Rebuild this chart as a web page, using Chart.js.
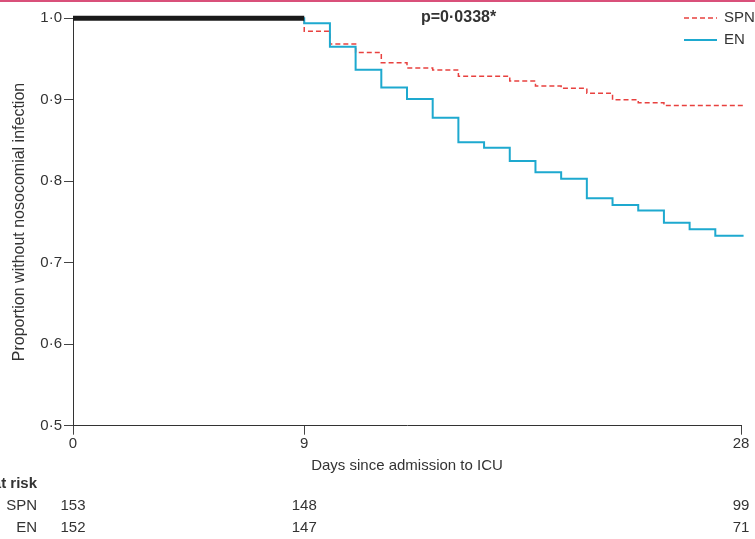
<!DOCTYPE html>
<html><head><meta charset="utf-8">
<script src="https://cdn.jsdelivr.net/npm/chart.js@4/dist/chart.umd.min.js"></script>
<style>html,body{margin:0;padding:0;background:#fff;}#wrap{position:relative;width:755px;height:539px;}</style>
</head><body><div id="wrap"><canvas id="c" width="755" height="539"></canvas></div>
<script>
// ---- data ----
const seriesNames = ['SPN', 'EN'];
const commonDays = [0, 9];
const commonValues = [1.0, 1.0];
const spnDays = [0, 9, 10, 11, 12, 13, 14, 15, 17, 18, 19, 20, 21, 22, 23, 26.1];
const spnValues = [1.0, 0.984, 0.9685, 0.958, 0.9455, 0.939, 0.9366, 0.929, 0.923, 0.917, 0.914, 0.908, 0.900, 0.8965, 0.893, 0.893];
const enDays = [0, 9, 10, 11, 12, 13, 14, 15, 16, 17, 18, 19, 20, 21, 22, 23, 24, 25, 26.1];
const enValues = [1.0, 0.994, 0.965, 0.937, 0.915, 0.901, 0.878, 0.848, 0.841, 0.825, 0.811, 0.803, 0.779, 0.771, 0.764, 0.749, 0.741, 0.733, 0.733];
const xTickValues = [0, 9, 26];
const xTickLabels = ['0', '9', '28'];
const atRiskLabel = 'Number at risk';
const spnAtRisk = [153, 148, 99];
const enAtRisk = [152, 147, 71];
const pValueText = 'p=0·0338*';
const xTitle = 'Days since admission to ICU';
const yTitle = 'Proportion without nosocomial infection';

const FONT = "'Liberation Sans', Arial, sans-serif";
const TEXT = '#333333';
const RED = '#e8413f';
const CYAN = '#1ea9cf';

Chart.defaults.font.family = FONT;
Chart.defaults.color = TEXT;

const pts = (xs, ys) => xs.map((x, i) => ({x: x, y: ys[i]}));

const overlay = {
  id: 'overlay',
  afterDraw(chart) {
    const ctx = chart.ctx;
    const xs = chart.scales.x;
    ctx.save();
    // top rule
    ctx.fillStyle = '#d9507a';
    ctx.fillRect(0, 0, 755, 2);
    // p value
    ctx.fillStyle = TEXT;
    ctx.font = "bold 16px " + FONT;
    ctx.textAlign = 'left';
    ctx.textBaseline = 'middle';
    ctx.fillText(pValueText, 421, 18);
    // legend
    const ds = chart.data.datasets;
    [[ds[2], 18], [ds[1], 40]].forEach(([d, y]) => {
      ctx.beginPath();
      ctx.strokeStyle = d.borderColor;
      ctx.lineWidth = d.borderWidth;
      ctx.setLineDash(d.borderDash || []);
      ctx.moveTo(684, y); ctx.lineTo(717, y);
      ctx.stroke();
      ctx.setLineDash([]);
      ctx.font = "15px " + FONT;
      ctx.fillText(d.label, 724, y);
    });
    // number at risk table
    ctx.font = "bold 15px " + FONT;
    ctx.textAlign = 'right';
    ctx.fillText(atRiskLabel, 37, 484);
    ctx.font = "15px " + FONT;
    ctx.fillText(seriesNames[0], 37, 506);
    ctx.fillText(seriesNames[1], 37, 528);
    ctx.textAlign = 'center';
    xTickValues.forEach((v, i) => {
      const px = xs.getPixelForValue(v);
      ctx.fillText(String(spnAtRisk[i]), px, 506);
      ctx.fillText(String(enAtRisk[i]), px, 528);
    });
    ctx.restore();
  }
};

new Chart(document.getElementById('c'), {
  type: 'line',
  data: {
    datasets: [
      {label: 'both', data: pts(commonDays, commonValues), borderColor: '#1a1a1a', borderWidth: 5, pointRadius: 0, clip: false, borderCapStyle: 'butt'},
      {label: seriesNames[1], data: pts(enDays, enValues), borderColor: CYAN, borderWidth: 2, stepped: 'before', pointRadius: 0, clip: false},
      {label: seriesNames[0], data: pts(spnDays, spnValues), borderColor: RED, borderWidth: 1.5, borderDash: [5, 3], stepped: 'before', pointRadius: 0, clip: false}
    ]
  },
  options: {
    responsive: false,
    animation: false,
    events: [],
    layout: {padding: {top: 18.3, right: 14, bottom: 64, left: 0}},
    plugins: {legend: {display: false}, tooltip: {enabled: false}},
    scales: {
      x: {
        type: 'linear', min: 0, max: 26,
        afterBuildTicks: s => { s.ticks = xTickValues.map(v => ({value: v})); },
        afterFit: s => { s.height = 49.3; },
        ticks: {font: {size: 15}, padding: 0, maxRotation: 0, autoSkip: false,
                callback: (v, i) => xTickLabels[i]},
        grid: {drawOnChartArea: false, drawTicks: true, tickLength: 9, color: '#444'},
        border: {display: true, color: '#333', width: 1},
        title: {display: true, text: xTitle, font: {size: 15}, padding: {top: 0, bottom: 0}}
      },
      y: {
        min: 0.5, max: 1.0,
        afterFit: s => { s.width = 73; },
        ticks: {stepSize: 0.1, font: {size: 15}, padding: 2,
                callback: v => v.toFixed(1).replace('.', '·')},
        grid: {drawOnChartArea: false, drawTicks: true, tickLength: 9, color: '#444'},
        border: {display: true, color: '#333', width: 1},
        title: {display: true, text: yTitle, font: {size: 16}, padding: {top: 10, bottom: 0}}
      }
    }
  },
  plugins: [overlay]
});
</script></body></html>
